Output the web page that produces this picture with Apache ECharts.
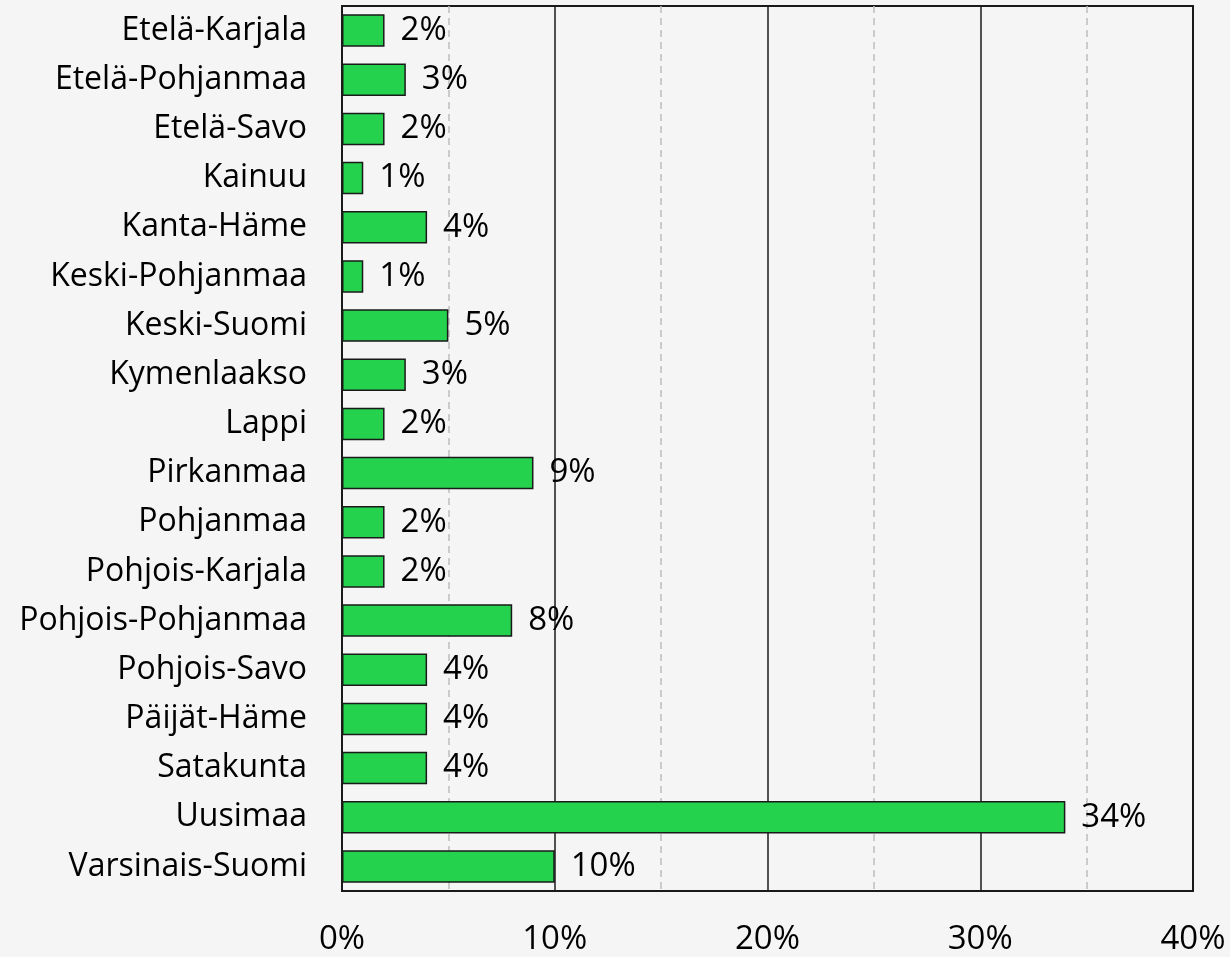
<!DOCTYPE html>
<html>
<head>
<meta charset="utf-8">
<script src="https://cdn.jsdelivr.net/npm/echarts@6/dist/echarts.min.js"></script>
<style>
  html, body { margin: 0; padding: 0; background: #f5f5f5; }
  #chart { width: 1230px; height: 957px; }
</style>
</head>
<body>
<div id="chart"></div>
<script>
const regions = [
  'Etelä-Karjala', 'Etelä-Pohjanmaa', 'Etelä-Savo', 'Kainuu', 'Kanta-Häme',
  'Keski-Pohjanmaa', 'Keski-Suomi', 'Kymenlaakso', 'Lappi', 'Pirkanmaa',
  'Pohjanmaa', 'Pohjois-Karjala', 'Pohjois-Pohjanmaa', 'Pohjois-Savo',
  'Päijät-Häme', 'Satakunta', 'Uusimaa', 'Varsinais-Suomi'
];
const shares = [2, 3, 2, 1, 4, 1, 5, 3, 2, 9, 2, 2, 8, 4, 4, 4, 34, 10];

const font = '"Open Sans", "Noto Sans", sans-serif';
const chart = echarts.init(document.getElementById('chart'));
chart.setOption({
  animation: false,
  backgroundColor: '#f5f5f5',
  grid: {
    left: 342, right: 37, top: 6, bottom: 66,
    show: true, borderColor: '#1a1a1a', borderWidth: 2, backgroundColor: 'transparent'
  },
  xAxis: {
    type: 'value', min: 0, max: 40, interval: 10,
    axisLine: { show: false },
    axisTick: { show: false },
    axisLabel: {
      formatter: v => v + '%', margin: 32,
      fontSize: 33, color: '#000', fontFamily: font
    },
    splitLine: { show: true, lineStyle: { color: '#1a1a1a', width: 1.5 } },
    minorTick: { show: false, splitNumber: 2 },
    minorSplitLine: { show: true, lineStyle: { color: '#bdbdbd', type: [7, 5], width: 1.5 } }
  },
  yAxis: {
    type: 'category', data: regions, inverse: true,
    axisLine: { show: true, lineStyle: { color: '#1a1a1a', width: 2 } },
    axisTick: { show: false },
    axisLabel: { margin: 35, fontSize: 32, color: '#000', fontFamily: font }
  },
  series: [{
    type: 'bar',
    data: shares,
    barCategoryGap: '34%',
    itemStyle: { color: '#25d24d', borderColor: '#1a1a1a', borderWidth: 1.5 },
    label: {
      show: true, position: 'right', distance: 16,
      formatter: p => p.value + '%',
      fontSize: 33, color: '#000', fontFamily: font
    }
  }]
});
</script>
</body>
</html>
